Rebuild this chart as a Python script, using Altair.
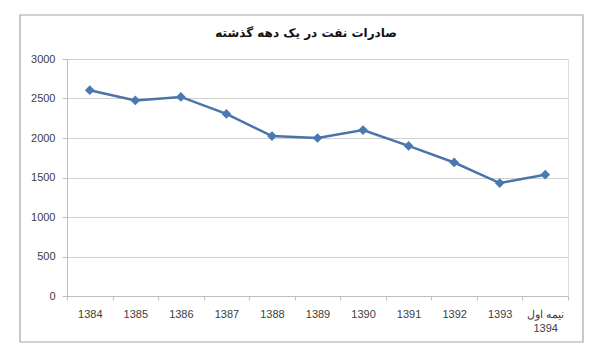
import altair as alt
import pandas as pd

title_text = "صادرات نفت در یک دهه گذشته"
categories = ["1384", "1385", "1386", "1387", "1388", "1389", "1390",
              "1391", "1392", "1393", "نیمه اول|1394"]
values = [2605, 2475, 2520, 2305, 2025, 2000, 2100, 1900, 1690, 1430, 1535]
y_ticks = [0, 500, 1000, 1500, 2000, 2500, 3000]

df = pd.DataFrame({"year": categories, "value": values})

W, H = 501, 237

frame = alt.Chart(pd.DataFrame({"a": [0]})).mark_rect(
    fill=None, fillOpacity=0, stroke="#a6a6a6", strokeWidth=1.2, clip=False
).encode(
    x=alt.value(-47), x2=alt.value(516), y=alt.value(-44), y2=alt.value(283)
)

title = alt.Chart(pd.DataFrame({"t": [title_text]})).mark_text(
    font="DejaVu Sans", fontSize=12, fontWeight="bold", color="#111111",
    baseline="middle", align="center"
).encode(
    x=alt.value(239), y=alt.value(-26), text="t:N"
)

x_enc = alt.X(
    "year:N", sort=categories, bandPosition=0.5,
    scale=alt.Scale(type="band", paddingInner=0, paddingOuter=0),
    axis=alt.Axis(
        title=None, labelAngle=0, tickBand="extent", labelExpr="split(datum.label, '|')",
        labelFont="Liberation Sans", labelFontSize=11, labelColor="#404040",
        labelPadding=8, labelBaseline="top", labelLineHeight=14,
        domainColor="#bfbfbf", tickColor="#bfbfbf", tickSize=4, grid=False
    )
)
y_enc = alt.Y(
    "value:Q", scale=alt.Scale(domain=[0, 3000], nice=False),
    axis=alt.Axis(
        title=None, values=y_ticks, format="d", labelFont="Liberation Sans", labelFontSize=11,
        labelColor="#404040", labelPadding=7, domainColor="#bfbfbf",
        tickColor="#bfbfbf", tickSize=5, gridColor="#d0d0d0", gridWidth=1
    )
)

line = alt.Chart(df).mark_line(color="#4a74a8", strokeWidth=2.5).encode(x=x_enc, y=y_enc)
pts = alt.Chart(df).mark_point(
    shape="diamond", filled=True, size=95, color="#4a78b0", opacity=1
).encode(x=x_enc, y=y_enc)

chart = alt.layer(line, pts, frame, title).properties(
    width=W, height=H,
    autosize=alt.AutoSizeParams(type="none"),
    padding={"left": 59, "top": 51, "right": 24, "bottom": 55},
).configure_view(stroke=None).configure(background="white")

chart.save("out.html", embed_options={"renderer": "svg", "actions": False})
